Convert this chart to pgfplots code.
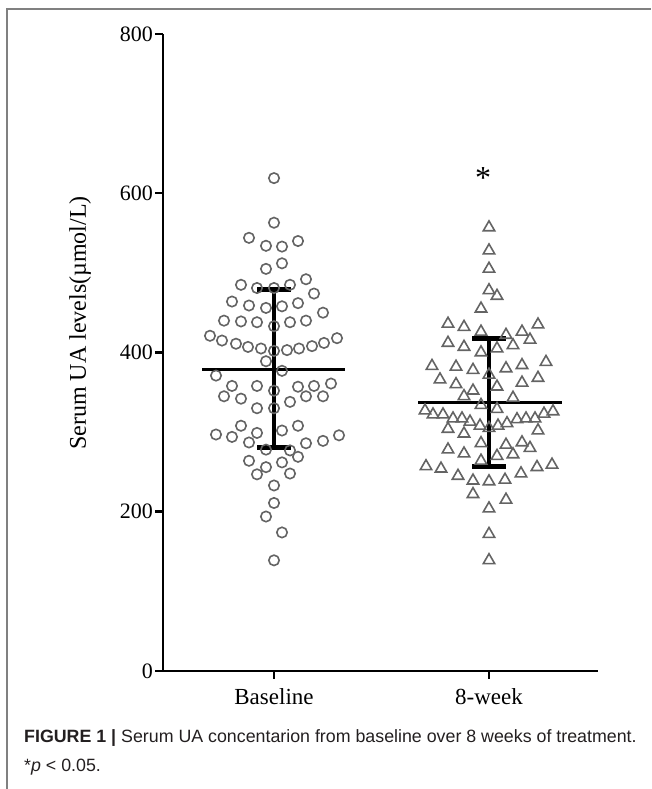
\documentclass[border=0pt]{standalone}
\usepackage{pgfplots}
\pgfplotsset{compat=1.18}
\usepackage{pgfplotstable}
\usepackage{fontspec}
\setmainfont{Liberation Serif}
\newfontfamily\capfont{Liberation Sans}
\definecolor{mk}{RGB}{100,100,100}
\definecolor{frame}{RGB}{128,128,128}
\definecolor{captxt}{RGB}{35,31,32}

\pgfplotstableread{
x y
0 619
0 563
-25 544
-8 534
8 533
24 540
-8 505
8 512
-33 485
-17 481
0 481
16 485
32 492
40 474
-42 464
-25 459
-8 456
8 458
24 462
49 450
-50 440
-33 439
-17 438
0 433
16 438
32 440
-64 421
-52 415
-38 411
-26 407
-13 405
0 402
13 403
25 405
38 408
50 412
63 418
-8 389
-58 371
8 377
-42 358
-17 358
0 352
24 357
40 358
57 361
-50 345
-33 342
32 345
49 345
16 338
-17 330
0 330
-33 308
-58 297
-42 294
-17 299
8 302
24 308
-25 287
-8 278
16 277
32 286
49 289
65 296
24 269
-25 264
-8 256
8 262
-17 247
16 248
0 233
0 211
-8 194
8 174
0 139
}\basedata

\pgfplotstableread{
x y
215 557
215 528
215 505
215 478
223 471
207 455
174 436
190 432
207 426
232 422
248 426
264 435
256 416
174 412
190 407
207 400
223 405
239 409
158 383
182 382
199 378
215 372
232 380
248 384
272 388
166 366
182 360
199 352
223 357
248 362
264 368
190 345
239 343
207 334
223 329
151 327
159 322
169 322
179 317
188 317
196 313
206 308
215 305
224 308
233 311
243 316
252 317
261 317
270 323
279 326
174 304
190 298
264 302
207 286
232 284
248 287
256 280
174 278
190 273
223 270
239 272
207 264
152 257
167 254
184 245
199 239
215 238
231 240
247 248
263 256
278 259
199 222
232 215
215 204
215 172
215 139
}\weekdata

\begin{document}
\begin{tikzpicture}
\useasboundingbox (0,0) rectangle (651pt,789pt);
\draw[frame, line width=1.5pt] (7pt,0) -- (7pt,780pt) -- (651pt,780pt);
\begin{axis}[
  at={(163pt,118pt)}, anchor=south west,
  x=1pt, y=0.79625pt,
  xmin=-111, xmax=324, ymin=0, ymax=800,
  axis x line=bottom, axis y line=left,
  axis line style={-, line width=2.5pt, black},
  xtick={0,215}, xticklabels={Baseline,8-week},
  ytick={0,200,400,600,800},
  tick align=outside, major tick length=8pt,
  every tick/.style={black, line width=2.5pt},
  /pgf/number format/assume math mode=true,
  tick label style={font=\fontsize{22}{26}\selectfont, black},
  xticklabel style={font=\fontsize{23}{26}\selectfont, yshift=-6pt},
  yticklabel style={inner xsep=2pt},
  clip=false,
]
\addplot[only marks, mark=o, mark size=5.2pt, mark options={draw=mk, line width=1.6pt}] table[x=x,y=y] {\basedata};
\addplot[only marks, mark=triangle, mark size=6.6pt, mark options={draw=mk, line width=1.6pt}] table[x=x,y=y] {\weekdata};
% Baseline mean and SD
\addplot[black, line width=3pt] coordinates {(-72,379) (71,379)};
\addplot[black, line width=4.5pt] coordinates {(0,281) (0,479)};
\addplot[black, line width=5pt] coordinates {(-17,479) (17,479)};
\addplot[black, line width=5pt] coordinates {(-17,281) (17,281)};
% 8-week mean and SD
\addplot[black, line width=3pt] coordinates {(144,337) (288,337)};
\addplot[black, line width=4.5pt] coordinates {(215,257) (215,417)};
\addplot[black, line width=5pt] coordinates {(198,417) (232,417)};
\addplot[black, line width=5pt] coordinates {(198,257) (232,257)};
\node[anchor=base, font=\fontsize{32}{34}\selectfont, inner sep=0pt] at (axis cs:209,606) {*};
\end{axis}
\node[rotate=90, font=\fontsize{24}{26}\selectfont, anchor=center] at (80pt,466pt) {Serum UA levels(µmol/L)};
\node[anchor=base west, inner sep=0pt, text=captxt, font=\capfont\fontsize{17.8}{20}\selectfont] at (24pt,46pt) {\textbf{FIGURE 1 |} Serum UA concentarion from baseline over 8 weeks of treatment.};
\node[anchor=base west, inner sep=0pt, text=captxt, font=\capfont\fontsize{17.8}{20}\selectfont] at (24pt,17pt) {*\textit{p} < 0.05.};
\end{tikzpicture}
\end{document}
